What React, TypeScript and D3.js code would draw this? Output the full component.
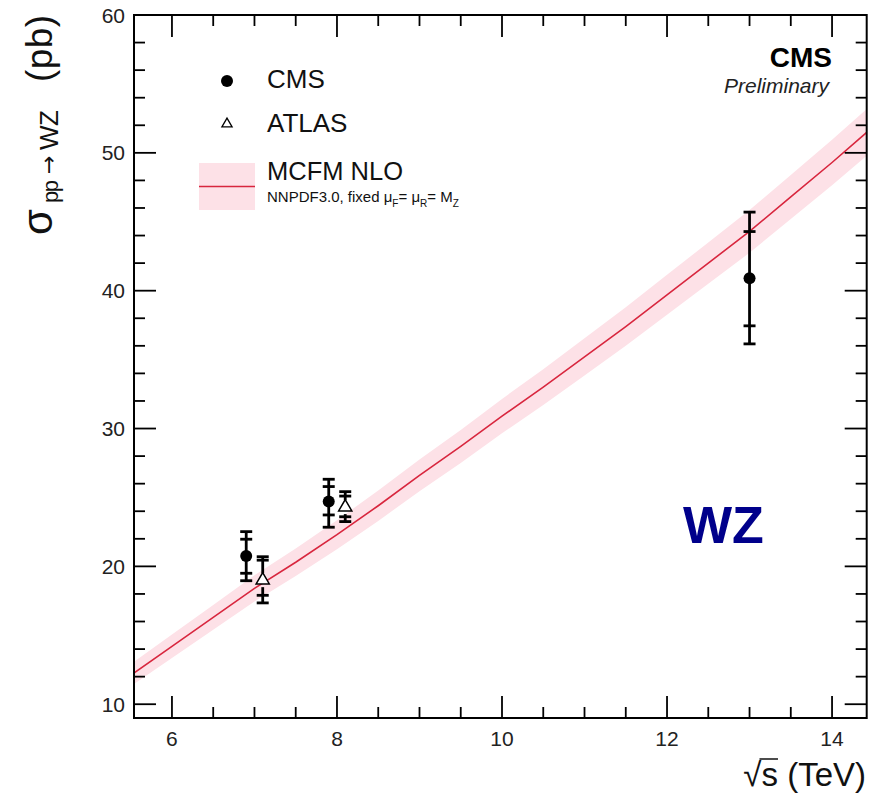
import React, { useEffect, useRef } from 'react';
import * as d3 from 'd3';

// MCFM NLO prediction
const theoryX = [5.5, 6, 6.5, 7, 7.5, 8, 8.5, 9, 9.5, 10, 10.5, 11, 11.5, 12, 12.5, 13, 13.5, 14, 14.5];
const theoryY = [12.1, 14.2, 16.3, 18.4, 20.3, 22.3, 24.4, 26.6, 28.7, 30.9, 33.0, 35.2, 37.4, 39.7, 42.0, 44.3, 46.8, 49.3, 51.9];
const theoryErr = [0.8, 0.85, 0.9, 0.95, 1.0, 1.05, 1.1, 1.15, 1.2, 1.25, 1.3, 1.35, 1.4, 1.45, 1.5, 1.55, 1.6, 1.65, 1.7];

// CMS measurements
const cmsX = [6.9, 7.9, 13.0];
const cmsY = [20.76, 24.7, 40.9];
const cmsStatUp = [1.21, 1.09, 3.39];
const cmsStatDn = [1.26, 0.97, 3.45];
const cmsTotUp = [1.76, 1.62, 4.8];
const cmsTotDn = [1.8, 1.86, 4.76];

// ATLAS measurements
const atlasX = [7.1, 8.1];
const atlasY = [19.0, 24.3];
const atlasStatUp = [1.45, 0.8];
const atlasStatDn = [1.1, 0.7];
const atlasTotUp = [1.7, 1.12];
const atlasTotDn = [1.65, 1.05];

const xMajor = [6, 8, 10, 12, 14];
const yMajor = [10, 20, 30, 40, 50, 60];

const App = () => {
  const svgRef = useRef(null);

  const drawChart = () => {
    const left = 134, right = 866.7, top = 15, bottom = 718;
    const x = d3.scaleLinear().domain([5.54, 14.42]).range([left, right]);
    const y = d3.scaleLinear().domain([9, 60]).range([bottom, top]);

    const svg = d3.select(svgRef.current);
    svg.selectAll('*').remove();
    const font = 'Liberation Sans, Arial, Helvetica, sans-serif';

    svg.append('defs').append('clipPath').attr('id', 'frame')
      .append('rect').attr('x', left).attr('y', top).attr('width', right - left).attr('height', bottom - top);

    const theory = theoryX.map((v, i) => ({ x: v, y: theoryY[i], e: theoryErr[i] }));
    const plot = svg.append('g').attr('clip-path', 'url(#frame)');
    plot.append('path')
      .datum(theory)
      .attr('d', d3.area().x((d) => x(d.x)).y0((d) => y(d.y - d.e)).y1((d) => y(d.y + d.e)))
      .attr('fill', '#fde1e7');
    plot.append('path')
      .datum(theory)
      .attr('d', d3.line().x((d) => x(d.x)).y((d) => y(d.y)))
      .attr('fill', 'none')
      .attr('stroke', '#d8263e')
      .attr('stroke-width', 1.6);

    // frame + ticks
    svg.append('rect').attr('x', left).attr('y', top).attr('width', right - left).attr('height', bottom - top)
      .attr('fill', 'none').attr('stroke', '#000').attr('stroke-width', 2);

    const ticks = svg.append('g').attr('stroke', '#000').attr('stroke-width', 1.8);
    const xMinor = d3.range(6, 14.5, 0.5);
    xMinor.forEach((v) => {
      const len = xMajor.includes(v) ? 22 : 11;
      ticks.append('line').attr('x1', x(v)).attr('x2', x(v)).attr('y1', bottom).attr('y2', bottom - len);
      ticks.append('line').attr('x1', x(v)).attr('x2', x(v)).attr('y1', top).attr('y2', top + len);
    });
    const yMinor = d3.range(10, 61, 2);
    yMinor.forEach((v) => {
      const len = yMajor.includes(v) ? 22 : 11;
      ticks.append('line').attr('y1', y(v)).attr('y2', y(v)).attr('x1', left).attr('x2', left + len);
      ticks.append('line').attr('y1', y(v)).attr('y2', y(v)).attr('x1', right).attr('x2', right - len);
    });

    svg.append('g').selectAll('text').data(xMajor).enter().append('text')
      .attr('x', (d) => x(d)).attr('y', 746)
      .attr('text-anchor', 'middle').style('font', `21px ${font}`).attr('fill', '#222')
      .text((d) => d);
    svg.append('g').selectAll('text').data(yMajor).enter().append('text')
      .attr('x', 125).attr('y', (d) => y(d) + 7.5)
      .attr('text-anchor', 'end').style('font', `21px ${font}`).attr('fill', '#222')
      .text((d) => d);

    // x title
    const xt = svg.append('text').attr('x', 866).attr('y', 786).attr('text-anchor', 'end')
      .style('font', `33px ${font}`).attr('fill', '#111');
    xt.append('tspan').text('√');
    xt.append('tspan').text('s (TeV)');
    const sBox = xt.node().getExtentOfChar(1);
    svg.append('line').attr('x1', sBox.x - 2).attr('x2', sBox.x + sBox.width)
      .attr('y1', sBox.y + 3).attr('y2', sBox.y + 3).attr('stroke', '#111').attr('stroke-width', 1.5);

    // y title, rotated
    const yt = svg.append('g').attr('transform', 'rotate(-90)').attr('fill', '#111');
    yt.append('text').attr('x', -235).attr('y', 52).style('font', `42px ${font}`).attr('textLength', 30).text('σ');
    yt.append('text').attr('x', -203).attr('y', 58).style('font', `22px ${font}`).attr('textLength', 23).text('pp');
    yt.append('text').attr('x', -174).attr('y', 56).style('font', '22px DejaVu Sans, sans-serif').attr('textLength', 21).text('→');
    yt.append('text').attr('x', -150).attr('y', 58).style('font', `26px ${font}`).attr('textLength', 40).text('WZ');
    yt.append('text').attr('x', -82).attr('y', 52).style('font', `37px ${font}`).attr('textLength', 67).text('(pb)');

    // error bars
    const cap = 6;
    const drawBars = (xs, ys, sU, sD, tU, tD, gap) => {
      const g = svg.append('g').attr('stroke', '#000').attr('stroke-width', 2.8);
      xs.forEach((v, i) => {
        const cx = x(v);
        const yc = y(ys[i]);
        g.append('line').attr('x1', cx).attr('x2', cx).attr('y1', y(ys[i] + tU[i])).attr('y2', yc - gap);
        g.append('line').attr('x1', cx).attr('x2', cx).attr('y1', yc + gap).attr('y2', y(ys[i] - tD[i]));
        [ys[i] + tU[i], ys[i] + sU[i], ys[i] - sD[i], ys[i] - tD[i]].forEach((e) => {
          g.append('line').attr('x1', cx - cap).attr('x2', cx + cap).attr('y1', y(e)).attr('y2', y(e));
        });
      });
    };
    drawBars(cmsX, cmsY, cmsStatUp, cmsStatDn, cmsTotUp, cmsTotDn, 0);
    drawBars(atlasX, atlasY, atlasStatUp, atlasStatDn, atlasTotUp, atlasTotDn, 7);

    svg.append('g').selectAll('circle').data(cmsX).enter().append('circle')
      .attr('cx', (d) => x(d)).attr('cy', (d, i) => y(cmsY[i])).attr('r', 6).attr('fill', '#000');

    const tri = d3.symbol().type(d3.symbolTriangle).size(75);
    svg.append('g').selectAll('path').data(atlasX).enter().append('path')
      .attr('d', tri)
      .attr('transform', (d, i) => `translate(${x(d)},${y(atlasY[i])})`)
      .attr('fill', '#fff').attr('stroke', '#000').attr('stroke-width', 1.5);

    // legend
    const leg = svg.append('g');
    leg.append('circle').attr('cx', 227).attr('cy', 81).attr('r', 6).attr('fill', '#000');
    leg.append('path').attr('d', d3.symbol().type(d3.symbolTriangle).size(45))
      .attr('transform', 'translate(227,124)').attr('fill', '#fff').attr('stroke', '#000').attr('stroke-width', 1.3);
    leg.append('rect').attr('x', 199).attr('y', 163).attr('width', 56).attr('height', 47).attr('fill', '#fde1e7');
    leg.append('line').attr('x1', 199).attr('x2', 255).attr('y1', 186.5).attr('y2', 186.5)
      .attr('stroke', '#d8263e').attr('stroke-width', 1.6);
    leg.append('text').attr('x', 267).attr('y', 88).style('font', `26px ${font}`).attr('fill', '#111').text('CMS');
    leg.append('text').attr('x', 267).attr('y', 131.5).style('font', `26px ${font}`).attr('fill', '#111').text('ATLAS');
    leg.append('text').attr('x', 267).attr('y', 180).style('font', `25.5px ${font}`).attr('fill', '#111').text('MCFM NLO');
    const nn = leg.append('text').attr('x', 267).attr('y', 202).style('font', `15px ${font}`).attr('fill', '#111');
    nn.append('tspan').text('NNPDF3.0, fixed μ');
    nn.append('tspan').attr('dy', 5).style('font-size', '10px').text('F');
    nn.append('tspan').attr('dy', -5).text('= μ');
    nn.append('tspan').attr('dy', 5).style('font-size', '10px').text('R');
    nn.append('tspan').attr('dy', -5).text('= M');
    nn.append('tspan').attr('dy', 5).style('font-size', '10px').text('Z');

    svg.append('text').attr('x', 832).attr('y', 66.5).attr('text-anchor', 'end')
      .style('font', `bold 28px ${font}`).attr('fill', '#000').text('CMS');
    svg.append('text').attr('x', 829).attr('y', 93).attr('text-anchor', 'end')
      .style('font', `italic 21px ${font}`).attr('fill', '#222').text('Preliminary');

    svg.append('text').attr('x', 683).attr('y', 543).style('font', `bold 52px ${font}`)
      .attr('fill', '#00008b').text('WZ');
  };

  useEffect(() => {
    drawChart();
  }, []);

  return (
    <svg ref={svgRef} width="880" height="801" style={{ position: 'absolute', left: 0, top: 0, background: '#fff' }} />
  );
};

export default App;
